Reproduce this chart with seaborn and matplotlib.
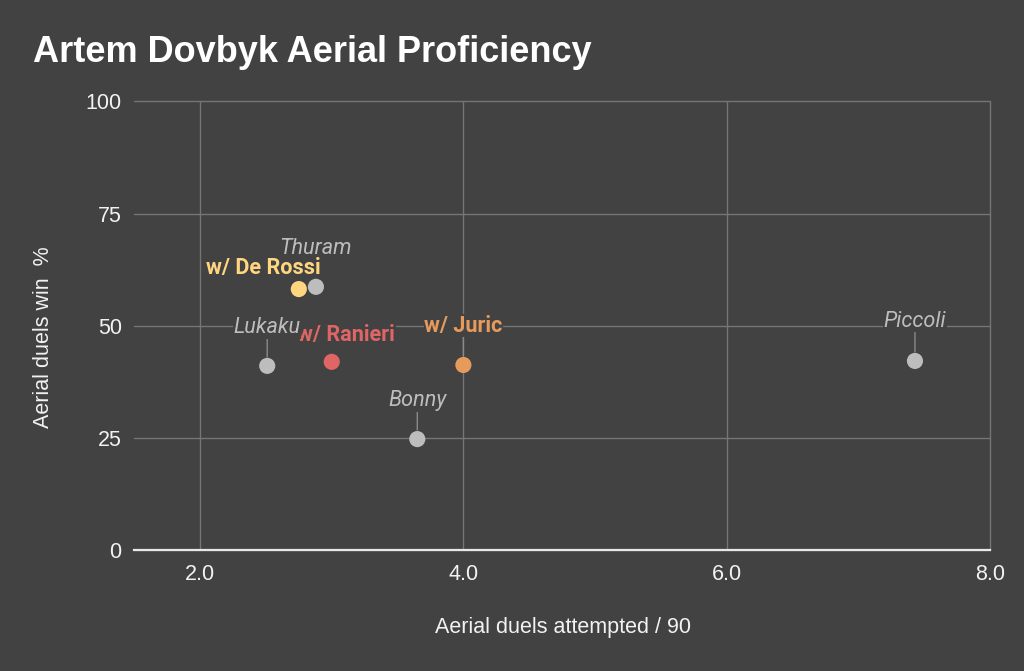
import matplotlib
matplotlib.use("Agg")
import matplotlib.pyplot as plt
import seaborn as sns
import pandas as pd

# data
names = ['w/ De Rossi', 'Thuram', 'Lukaku', 'w/ Ranieri', 'w/ Juric', 'Bonny', 'Piccoli']
duels_p90 = [2.75, 2.88, 2.51, 3.0, 4.0, 3.65, 7.43]
win_pct = [58.2, 58.7, 41.1, 42.0, 41.3, 24.8, 42.2]
is_dovbyk = [True, False, False, True, True, False, False]
x_ticks = [2.0, 4.0, 6.0, 8.0]
y_ticks = [0, 25, 50, 75, 100]

df = pd.DataFrame({'name': names, 'x': duels_p90, 'y': win_pct, 'dovbyk': is_dovbyk})

BG = '#424242'
GREY = '#bdbdbd'
colores = {'w/ De Rossi': '#ffd67f', 'w/ Ranieri': '#e06666', 'w/ Juric': '#e69a5c',
           'Thuram': GREY, 'Lukaku': GREY, 'Bonny': GREY, 'Piccoli': GREY}

# label offsets in points (dx, dy to the text baseline), leader line, draw order
offsets = {'w/ De Rossi': (-25.5, 11, False, 6), 'w/ Ranieri': (10.5, 15, False, 5),
           'Thuram': (0, 23.5, False, 5), 'Lukaku': (0, 23.5, True, 6),
           'w/ Juric': (0, 24, True, 5), 'Bonny': (0, 23.5, True, 5),
           'Piccoli': (0, 24.5, True, 5)}

sns.set_style("dark")
plt.rcParams['font.family'] = ['Liberation Sans', 'DejaVu Sans']

fig = plt.figure(figsize=(10.24, 6.71), dpi=100, facecolor=BG)
ax = fig.add_axes([0.1311, 0.1796, 0.9668 - 0.1311, 0.849 - 0.1796])
ax.set_facecolor(BG)

sns.scatterplot(data=df, x='x', y='y', hue='name', palette=colores, s=135,
                edgecolor='none', legend=False, ax=ax, zorder=8)

ax.set_xlim(1.5, 8.0)
ax.set_ylim(0, 100)
ax.set_xticks(x_ticks)
ax.set_xticklabels([f'{t:.1f}' for t in x_ticks])
ax.set_yticks(y_ticks)
ax.grid(True, color='#757575', lw=1)
ax.set_axisbelow(True)
for gl in ax.get_xgridlines() + ax.get_ygridlines():
    gl.set_clip_on(False)
for s in ['top', 'left', 'right']:
    ax.spines[s].set_visible(False)
ax.spines['bottom'].set_color('#e8e8e8')
ax.spines['bottom'].set_linewidth(1.6)
ax.spines['bottom'].set_zorder(3)
ax.tick_params(length=0, labelsize=15.5, colors='#f2f2f2')
ax.tick_params(axis='x', pad=10)
ax.tick_params(axis='y', pad=9)
ax.set_xlabel('')
ax.set_ylabel('')

for _, r in df.iterrows():
    dx, dy, leader, z = offsets[r['name']]
    arrow = None
    if leader:
        arrow = dict(arrowstyle='-', color='#8a8a8a', lw=1, shrinkA=0, shrinkB=6.5)
    ax.annotate(r['name'], (r['x'], r['y']), xytext=(dx, dy), textcoords='offset points',
                ha='center', va='baseline', fontsize=15.6, family='Roboto',
                color=colores[r['name']],
                fontweight='bold' if r['dovbyk'] else 'normal',
                fontstyle='normal' if r['dovbyk'] else 'italic',
                bbox=dict(boxstyle='square,pad=0.02', fc=BG, ec='none'),
                arrowprops=arrow, zorder=z)

fig.text(0.032, 1 - 62 / 671, 'Artem Dovbyk Aerial Proficiency', ha='left', va='baseline',
         fontsize=26, fontweight='bold', color='white')
fig.text(563 / 1024, 1 - 627 / 671, 'Aerial duels attempted / 90', ha='center', va='center',
         fontsize=15.5, color='#f2f2f2')
fig.text(44 / 1024, 1 - 337 / 671, 'Aerial duels win  %', ha='center', va='center',
         rotation=90, fontsize=15.5, color='#f2f2f2')

fig.savefig('out.png', dpi=100, facecolor=BG)
